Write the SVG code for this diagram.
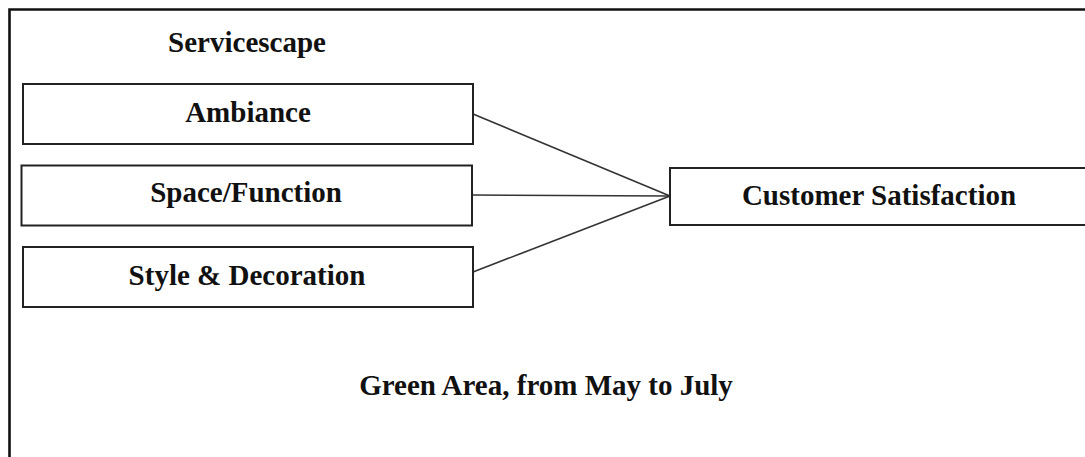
<svg xmlns="http://www.w3.org/2000/svg" width="1085" height="457" viewBox="0 0 1085 457">
  <style>
    .box { fill: #ffffff; stroke: #222222; stroke-width: 2; }
    .label { font-family: "Liberation Serif", "Times New Roman", serif; font-weight: bold; font-size: 29px; fill: #111111; text-anchor: middle; }
    .link { stroke: #333333; stroke-width: 1.6; fill: none; }
    .frame { stroke: #111111; stroke-width: 2.6; fill: none; }
  </style>
  <rect x="0" y="0" width="1085" height="457" fill="#ffffff"/>

  <!-- outer frame, open at the right and bottom -->
  <path class="frame" d="M 9.5 457 V 9.5 H 1085"/>

  <text class="label" x="247" y="52">Servicescape</text>

  <g id="connectors">
    <line class="link" x1="473" y1="114" x2="670" y2="196"/>
    <line class="link" x1="472" y1="195" x2="670" y2="196"/>
    <line class="link" x1="473" y1="272" x2="670" y2="196"/>
  </g>

  <g id="ambiance">
    <rect class="box" x="23" y="84" width="450" height="60"/>
    <text class="label" x="248" y="122">Ambiance</text>
  </g>

  <g id="space-function">
    <rect class="box" x="21.5" y="165.5" width="450.5" height="60"/>
    <text class="label" x="246" y="202">Space/Function</text>
  </g>

  <g id="style-decoration">
    <rect class="box" x="23" y="247" width="450" height="60"/>
    <text class="label" x="247" y="285">Style &amp; Decoration</text>
  </g>

  <g id="customer-satisfaction">
    <rect class="box" x="670" y="168" width="420" height="57"/>
    <text class="label" x="879" y="205">Customer Satisfaction</text>
  </g>

  <text class="label" x="546" y="395">Green Area, from May to July</text>
</svg>
